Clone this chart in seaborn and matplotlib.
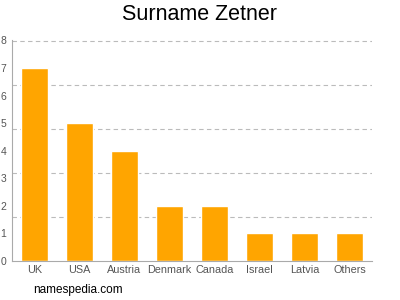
import matplotlib
matplotlib.use("Agg")
import matplotlib.pyplot as plt
import seaborn as sns
import numpy as np
import pandas as pd

countries = ["UK", "USA", "Austria", "Denmark", "Canada", "Israel", "Latvia", "Others"]
counts = [7, 5, 4, 2, 2, 1, 1, 1]
ytick_values = [0, 1, 2, 3, 4, 5, 6, 7, 8]
grid_values = [1.6, 3.2, 4.8, 6.4, 7.99]

sns.set_style("white")
plt.rcParams['font.family'] = ['Liberation Sans', 'DejaVu Sans']

fig = plt.figure(figsize=(4, 3), dpi=100)
ax = fig.add_axes([0.03, 0.13, 0.90, 0.737])

df = pd.DataFrame({"country": countries, "count": counts})
sns.barplot(data=df, x="country", y="count", color="#FFA500", saturation=1,
            width=0.62, ax=ax)

ax.set_ylim(0, 8.02)
ax.set_xlim(-0.5, len(countries) - 0.5)
ax.set_yticks(ytick_values)
ax.set_yticklabels([str(v) for v in ytick_values])
ax.set_yticks(grid_values, minor=True)
ax.yaxis.grid(True, which="minor", linestyle=(0, (4, 3)), color="#bbbbbb", linewidth=0.8)
ax.yaxis.grid(False, which="major")
ax.set_axisbelow(True)
ax.tick_params(axis="y", which="major", length=3, width=0.6, color="#aaaaaa",
               labelsize=7.5, labelcolor="#555555", pad=1)
ax.tick_params(axis="y", which="minor", length=0)
ax.tick_params(axis="x", length=0, labelsize=7.8, labelcolor="#555555", pad=3)
ax.set_xlabel("")
ax.set_ylabel("")
for s in ["top", "right"]:
    ax.spines[s].set_visible(False)
for s in ["left", "bottom"]:
    ax.spines[s].set_color("#aaaaaa")
    ax.spines[s].set_linewidth(0.8)

fig.text(0.5, 0.95, "Surname Zetner", ha="center", va="center", fontsize=15.5, color="black")
fig.text(0.082, 0.035, "namespedia.com", ha="left", va="center", fontsize=8.5, color="black")

fig.savefig("out.png", dpi=100)
